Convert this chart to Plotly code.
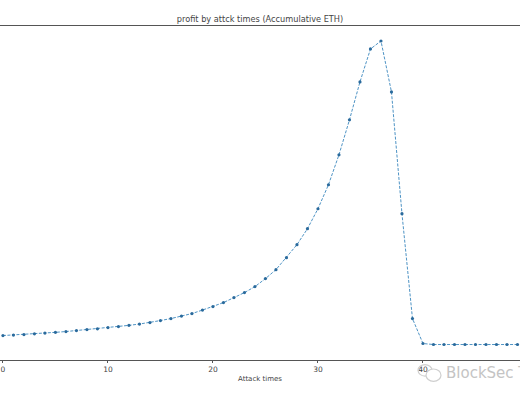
import plotly.graph_objects as go

attack_times = list(range(0, 50))
profit = [0.95, 1.0, 1.05, 1.12, 1.2, 1.27, 1.35, 1.45, 1.55, 1.62, 1.75, 1.85, 1.97, 2.1, 2.25,
          2.45, 2.65, 2.9, 3.15, 3.5, 3.85, 4.25, 4.75, 5.25, 5.85, 6.65, 7.55, 8.75, 10.05, 11.65,
          13.65, 16.05, 19.05, 22.55, 26.35, 29.65, 30.45, 25.35, 13.15, 2.65, 0.15, 0.05, 0.05, 0.05, 0.05,
          0.05, 0.05, 0.05, 0.05, 0.05]
x_ticks = [0, 10, 20, 30, 40]
x_range = [-0.28, 49.24]
y_range = [-1.5, 31.95]
title_text = "profit by attck times (Accumulative ETH)"
x_title = "Attack times"
watermark = "BlockSec T"

text_color = "#444444"
line_color = "#3a87bd"

fig = go.Figure(go.Scatter(
    x=attack_times, y=profit, mode="lines+markers",
    line=dict(color=line_color, width=0.9, dash="3px,1.5px"),
    marker=dict(color="#2a6a9c", size=3.2),
    cliponaxis=True, hoverinfo="skip",
))
fig.update_layout(
    width=520, height=400, autosize=False, showlegend=False,
    paper_bgcolor="white", plot_bgcolor="white",
    margin=dict(l=0, r=0, t=26, b=40),
    font=dict(family="DejaVu Sans", color=text_color, size=8),
    title=dict(text=title_text, x=0.5, xanchor="center", y=0.952, yanchor="middle",
               font=dict(size=8.2, color=text_color)),
    xaxis=dict(range=x_range, tickmode="array", tickvals=x_ticks, ticks="outside",
               ticklen=2, tickwidth=0.8, tickcolor="#555", showgrid=False, zeroline=False,
               showline=True, linecolor="#555", linewidth=1, mirror=True,
               tickfont=dict(size=7.5, color=text_color),
               title=dict(text=x_title, font=dict(size=7, color=text_color), standoff=3)),
    yaxis=dict(range=y_range, showticklabels=False, ticks="", showgrid=False,
               zeroline=False, showline=False),
    annotations=[dict(text=watermark, xref="paper", yref="paper", x=444 / 520, y=-0.038,
                      xanchor="left", yanchor="middle", showarrow=False,
                      font=dict(size=15, color="#c4c4c4"))],
    shapes=[
        dict(type="circle", xref="paper", yref="paper", x0=418 / 520, x1=432 / 520,
             y0=-0.048, y1=-0.014, line=dict(color="#cfcfcf", width=1.2)),
        dict(type="circle", xref="paper", yref="paper", x0=426 / 520, x1=441 / 520,
             y0=-0.064, y1=-0.027, line=dict(color="#cfcfcf", width=1.2), fillcolor="white"),
    ],
)
fig.write_html("out.html", config=dict(displayModeBar=False),
               post_script="document.body.style.margin='0';document.body.style.overflow='hidden';")
